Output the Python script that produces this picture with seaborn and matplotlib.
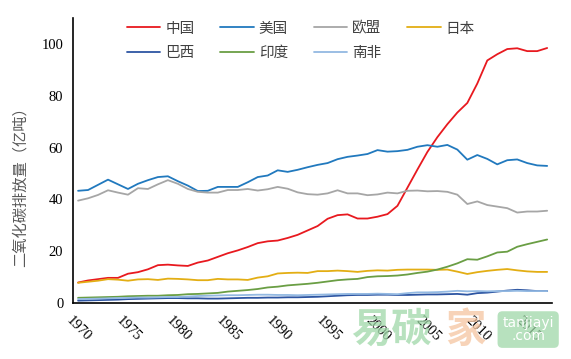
import numpy as np
import pandas as pd
import matplotlib
matplotlib.use('Agg')
import matplotlib.pyplot as plt
import seaborn as sns

# 年份 1970-2017
years = list(range(1970, 2018))

# 各国二氧化碳排放量（亿吨）
china = [7.9, 8.7, 9.2, 9.7, 9.7, 11.3, 11.9, 13.0, 14.6, 14.8,
         14.5, 14.3, 15.6, 16.4, 17.8, 19.2, 20.3, 21.6, 23.1, 23.8,
         24.1, 25.1, 26.3, 28.0, 29.7, 32.5, 33.9, 34.2, 32.6, 32.6,
         33.3, 34.3, 37.5, 44.5, 51.5, 58.3, 64.0, 69.0, 73.5, 77.2,
         84.7, 93.6, 96.0, 98.0, 98.3, 97.2, 97.2, 98.4]
usa = [43.3, 43.6, 45.6, 47.6, 45.8, 44.0, 46.0, 47.4, 48.6, 48.9,
       47.0, 45.3, 43.2, 43.3, 44.8, 44.8, 44.8, 46.6, 48.6, 49.2,
       51.2, 50.6, 51.4, 52.4, 53.3, 54.0, 55.5, 56.4, 56.9, 57.5,
       59.0, 58.4, 58.6, 59.1, 60.3, 60.9, 60.3, 61.0, 59.2, 55.3,
       57.1, 55.6, 53.5, 55.1, 55.4, 54.0, 53.1, 52.9]
eu = [39.5, 40.4, 41.7, 43.5, 42.6, 41.8, 44.3, 44.0, 45.8, 47.4,
      46.0, 44.0, 42.9, 42.6, 42.6, 43.6, 43.6, 44.0, 43.4, 43.9,
      44.8, 44.1, 42.7, 42.0, 41.8, 42.3, 43.5, 42.3, 42.3, 41.6,
      41.9, 42.6, 42.3, 43.3, 43.4, 43.1, 43.2, 42.9, 41.8, 38.2,
      39.2, 37.8, 37.2, 36.6, 34.9, 35.3, 35.3, 35.6]
japan = [7.8, 8.2, 8.6, 9.2, 9.0, 8.6, 9.1, 9.2, 8.9, 9.4,
         9.3, 9.1, 8.8, 8.8, 9.3, 9.1, 9.1, 8.9, 9.8, 10.3,
         11.4, 11.6, 11.7, 11.6, 12.3, 12.3, 12.5, 12.3, 12.0, 12.4,
         12.6, 12.5, 12.8, 12.9, 12.9, 12.9, 12.8, 12.9, 12.1, 11.2,
         11.9, 12.4, 12.8, 13.1, 12.6, 12.2, 12.0, 12.0]
brazil = [0.9, 1.0, 1.1, 1.2, 1.3, 1.5, 1.6, 1.7, 1.8, 1.9,
          1.9, 1.8, 1.8, 1.7, 1.7, 1.8, 1.9, 2.0, 2.0, 2.1,
          2.1, 2.2, 2.2, 2.3, 2.4, 2.6, 2.8, 3.0, 3.1, 3.1,
          3.2, 3.2, 3.1, 3.1, 3.2, 3.3, 3.3, 3.4, 3.5, 3.2,
          3.8, 4.0, 4.4, 4.8, 5.1, 4.9, 4.6, 4.6]
india = [2.0, 2.1, 2.2, 2.3, 2.4, 2.6, 2.7, 2.8, 2.8, 3.0,
         3.1, 3.4, 3.5, 3.7, 3.9, 4.4, 4.7, 5.0, 5.4, 6.0,
         6.3, 6.8, 7.1, 7.4, 7.8, 8.3, 8.8, 9.1, 9.3, 10.0,
         10.3, 10.4, 10.6, 11.0, 11.6, 12.1, 12.9, 14.0, 15.3, 16.9,
         16.7, 18.0, 19.5, 19.8, 21.7, 22.7, 23.6, 24.5]
south_africa = [1.5, 1.6, 1.7, 1.8, 1.9, 2.0, 2.1, 2.1, 2.2, 2.3,
                2.3, 2.5, 2.7, 2.8, 2.9, 3.0, 3.0, 3.1, 3.2, 3.2,
                3.1, 3.1, 3.0, 3.1, 3.2, 3.3, 3.4, 3.5, 3.5, 3.5,
                3.6, 3.5, 3.4, 3.8, 4.1, 4.1, 4.2, 4.4, 4.7, 4.5,
                4.6, 4.5, 4.6, 4.6, 4.7, 4.6, 4.6, 4.6]

names = ['中国', '美国', '欧盟', '日本', '巴西', '印度', '南非']
series = [china, usa, eu, japan, brazil, india, south_africa]
colors = ['#E8191F', '#2179BE', '#A6A6A6', '#E3AE14', '#2D55A2', '#6A9E44', '#93B9E2']

df = pd.DataFrame({
    '年份': np.tile(years, len(names)),
    '排放量': np.concatenate(series),
    '国家': np.repeat(names, len(years)),
})

sns.set_style('white')
plt.rcParams['font.family'] = ['Liberation Serif', 'Noto Sans CJK SC']
plt.rcParams['axes.unicode_minus'] = False

fig = plt.figure(figsize=(5.71, 3.59), dpi=100)
ax = fig.add_axes([0.128, 0.156, 0.839, 0.794])

sns.lineplot(data=df, x='年份', y='排放量', hue='国家', hue_order=names,
             palette=dict(zip(names, colors)), linewidth=1.3, ax=ax)

ax.set_xlim(1969.5, 2017.5)
ax.set_ylim(0, 110)
ax.set_yticks([0, 20, 40, 60, 80, 100])
ax.set_xticks([y - 0.5 for y in range(1970, 2016, 5)])
ax.set_xticklabels([str(y) for y in range(1970, 2016, 5)],
                   rotation=-45, ha='left', va='top', rotation_mode='anchor')
ax.tick_params(axis='both', direction='out', length=4, width=1, colors='black',
               labelsize=10.5, pad=3)
ax.tick_params(axis='x', pad=4)
for s in ['top', 'right']:
    ax.spines[s].set_visible(False)
for s in ['left', 'bottom']:
    ax.spines[s].set_color('black')
    ax.spines[s].set_linewidth(1.2)

ax.set_xlabel('')
ax.set_ylabel('二氧化碳排放量（亿吨）', color='#595959', fontsize=11,
              family=['Noto Sans CJK SC'])
ax.yaxis.set_label_coords(-0.092, 0.42)

# 图例：两行四列
handles, labels = ax.get_legend_handles_labels()
hmap = dict(zip(labels, handles))
order = ['中国', '巴西', '美国', '印度', '欧盟', '南非', '日本']
ax.legend([hmap[k] for k in order], order, ncol=4, frameon=False,
          loc='upper left', bbox_to_anchor=(0.222, 0.94),
          bbox_transform=fig.transFigure, borderpad=0, borderaxespad=0,
          handlelength=2.3, handletextpad=0.35, columnspacing=1.75,
          labelspacing=0.72, prop={'family': ['Noto Sans CJK SC'], 'size': 10.5},
          labelcolor='#404040')

# 水印
fig.text(0.615, 0.08, '易碳', color='#9FD8A8', fontsize=29, alpha=0.75,
         family=['Noto Sans CJK SC'], fontweight='bold', ha='left', va='center')
fig.text(0.78, 0.08, '家', color='#F5C5A0', fontsize=29, alpha=0.75,
         family=['Noto Sans CJK SC'], fontweight='bold', ha='left', va='center')
fig.text(0.925, 0.082, 'tanjiayi\n.com', color='white', fontsize=10,
         family=['DejaVu Sans'], ha='center', va='center', linespacing=0.9,
         bbox=dict(boxstyle='round,pad=0.35', fc='#9FD8A8', ec='none', alpha=0.75))

fig.savefig('out.png', dpi=100)
